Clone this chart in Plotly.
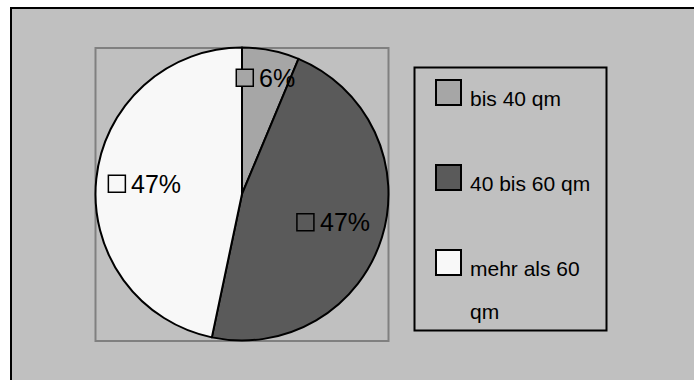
import math
import textwrap
import plotly.graph_objects as go

# ---- data ----
categories = ["bis 40 qm", "40 bis 60 qm", "mehr als 60 qm"]
shares = [6.3, 47.0, 46.7]

# ---- style ----
slice_colors = ["#A6A6A6", "#5A5A5A", "#F8F8F8"]
label_radius = [0.81, 0.65, 0.67]
FONT = "Liberation Sans, Arial, sans-serif"

W, H = 694, 380


def px(x):
    return x / W


def py(y):
    return 1 - y / H


PIE_L, PIE_R, PIE_T, PIE_B = 95.5, 388.5, 47.5, 340.5
cx = (PIE_L + PIE_R) / 2
cy = (PIE_T + PIE_B) / 2
R = min(PIE_R - PIE_L, PIE_B - PIE_T) / 2

fig = go.Figure(
    go.Pie(
        labels=categories,
        values=shares,
        sort=False,
        direction="clockwise",
        rotation=0,
        marker=dict(colors=slice_colors, line=dict(color="black", width=2)),
        textinfo="none",
        hoverinfo="skip",
        showlegend=False,
        domain=dict(x=[px(PIE_L), px(PIE_R)], y=[py(PIE_B), py(PIE_T)]),
    )
)

shapes = []
annotations = []

# outer chart frame
shapes.append(dict(type="rect", xref="paper", yref="paper", x0=px(11), x1=1.05,
                   y0=-0.05, y1=py(8), fillcolor="#C0C0C0",
                   line=dict(color="black", width=2), layer="below"))
# plot area frame
shapes.append(dict(type="rect", xref="paper", yref="paper", x0=px(PIE_L), x1=px(PIE_R),
                   y0=py(PIE_B + 0.5), y1=py(PIE_T + 0.5),
                   line=dict(color="#808080", width=2), layer="below"))
# legend frame
shapes.append(dict(type="rect", xref="paper", yref="paper", x0=px(414.5), x1=px(606.5),
                   y0=py(330.5), y1=py(67.5),
                   line=dict(color="black", width=2), layer="below"))

# data labels
char_w = {"%": 0.889}
LBL_SIZE = 25
SQ = 17
GAP = 5
total = sum(shares)
cum = 0.0
for i, v in enumerate(shares):
    mid = (cum + v / 2) / total * 2 * math.pi
    cum += v
    ax = cx + label_radius[i] * R * math.sin(mid)
    ay = cy - label_radius[i] * R * math.cos(mid)
    txt = f"{round(v / total * 100)}%"
    tw = sum(char_w.get(c, 0.556) for c in txt) * LBL_SIZE
    left = ax - (SQ + GAP + tw) / 2
    shapes.append(dict(type="rect", xref="paper", yref="paper",
                       x0=px(left), x1=px(left + SQ), y0=py(ay + SQ / 2), y1=py(ay - SQ / 2),
                       fillcolor=slice_colors[i], line=dict(color="black", width=1.5)))
    annotations.append(dict(x=px(left + SQ + GAP - 1), y=py(ay), xref="paper", yref="paper",
                            text=txt, showarrow=False, xanchor="left", yanchor="middle",
                            font=dict(family=FONT, size=LBL_SIZE, color="black")))

# legend
LEG_SQ = 25
LEG_X = 436
LEG_TOP0 = 80
LEG_STEP = 85
LEG_SIZE = 21
for i, name in enumerate(categories):
    top = LEG_TOP0 + i * LEG_STEP
    shapes.append(dict(type="rect", xref="paper", yref="paper",
                       x0=px(LEG_X), x1=px(LEG_X + LEG_SQ), y0=py(top + LEG_SQ), y1=py(top),
                       fillcolor=slice_colors[i], line=dict(color="black", width=2)))
    for k, line in enumerate(textwrap.wrap(name, 12)):
        base = top + LEG_SQ + k * 43
        annotations.append(dict(x=px(LEG_X + LEG_SQ + 7), y=py(base - 7), xref="paper", yref="paper",
                                text=line, showarrow=False, xanchor="left", yanchor="middle",
                                font=dict(family=FONT, size=LEG_SIZE, color="black")))

fig.update_layout(
    width=W, height=H,
    margin=dict(l=0, r=0, t=0, b=0),
    paper_bgcolor="white",
    plot_bgcolor="white",
    shapes=shapes,
    annotations=annotations,
    showlegend=False,
)

fig.write_html("out.html")
